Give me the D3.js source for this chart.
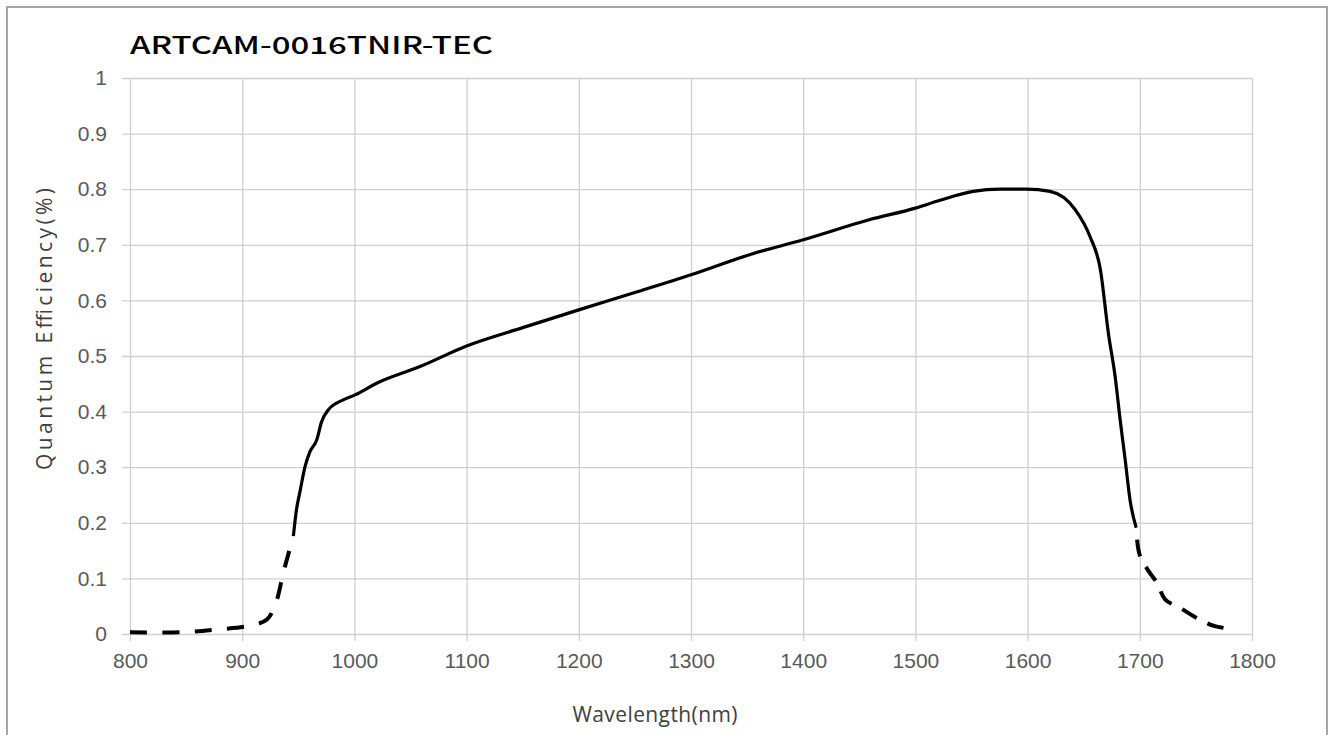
<!DOCTYPE html>
<html>
<head>
<meta charset="utf-8">
<script src="https://cdn.jsdelivr.net/npm/d3@7"></script>
<style>
  body { margin: 0; background: #fff; }
</style>
</head>
<body>
<div id="chart"></div>
<script>
// wavelength (nm) / quantum efficiency
var dashLeftWl  = [800, 845, 877, 907, 922, 930, 937, 945.6];
var dashLeftQe  = [0.003, 0.003, 0.008, 0.015, 0.026, 0.056, 0.113, 0.176];

var solidWl = [945.6, 948.4, 951.3, 956, 960.4, 966.4, 970.8, 976.7, 990, 1000.5, 1019.8, 1058.5, 1100,
               1150, 1200, 1251.4, 1300, 1355, 1400, 1458.8, 1500, 1521.9, 1551.6, 1575.4, 1599,
               1620, 1642.5, 1655.6, 1664.9, 1672, 1678, 1682.5, 1687, 1691.3, 1696.8];
var solidQe = [0.176, 0.224, 0.254, 0.301, 0.328, 0.349, 0.382, 0.403, 0.421, 0.430, 0.451, 0.481, 0.518,
               0.551, 0.583, 0.615, 0.646, 0.684, 0.709, 0.745, 0.766, 0.780, 0.796, 0.800, 0.800,
               0.796, 0.763, 0.715, 0.655, 0.541, 0.463, 0.385, 0.313, 0.241, 0.191];

var dashRightWl = [1696.8, 1699.8, 1707.9, 1715.3, 1722.7, 1736, 1748, 1762.7, 1774.6];
var dashRightQe = [0.191, 0.143, 0.113, 0.092, 0.062, 0.047, 0.032, 0.017, 0.011];

var xTicks = [800, 900, 1000, 1100, 1200, 1300, 1400, 1500, 1600, 1700, 1800];
var yTicks = [0, 0.1, 0.2, 0.3, 0.4, 0.5, 0.6, 0.7, 0.8, 0.9, 1];

var chartTitle = "ARTCAM-0016TNIR-TEC";
var xTitle = "Wavelength(nm)";
var yTitle = "Quantum  Efficiency(%)";

var width = 1332, height = 735;
var plotLeft = 130, plotRight = 1252, plotTop = 78, plotBottom = 634;

var svg = d3.select("#chart").append("svg")
  .attr("width", width)
  .attr("height", height);

// outer frame
svg.append("rect")
  .attr("x", 7).attr("y", 7)
  .attr("width", 1320).attr("height", 740)
  .attr("fill", "none")
  .attr("stroke", "#a6a6a6")
  .attr("stroke-width", 2);

var x = d3.scaleLinear().domain([800, 1800]).range([plotLeft, plotRight]);
var y = d3.scaleLinear().domain([0, 1]).range([plotBottom, plotTop]);

// vertical gridlines
svg.append("g")
  .attr("transform", "translate(0," + plotBottom + ")")
  .call(d3.axisBottom(x).tickValues(xTicks).tickSize(-(plotBottom - plotTop)).tickFormat(""))
  .call(function(g) {
    g.select(".domain").remove();
    g.selectAll("line").attr("stroke", "#cfcfcf").attr("stroke-width", 1.3);
  });

// x ticks + labels
svg.append("g")
  .attr("transform", "translate(0," + plotBottom + ")")
  .call(d3.axisBottom(x).tickValues(xTicks).tickSize(7).tickPadding(12).tickFormat(d3.format("d")))
  .call(function(g) {
    g.select(".domain").remove();
    g.selectAll("line").attr("stroke", "#cfcfcf").attr("stroke-width", 1.3);
    g.selectAll("text")
      .attr("fill", "#595959")
      .style("font-family", "'Liberation Sans', Arial, sans-serif")
      .style("font-size", "21px");
  });

// horizontal gridlines, sticking out 8px to the left
svg.append("g")
  .attr("transform", "translate(" + plotLeft + ",0)")
  .call(d3.axisLeft(y).tickValues(yTicks).tickSize(8).tickPadding(14).tickFormat(d3.format("")))
  .call(function(g) {
    g.select(".domain").remove();
    g.selectAll("line").attr("x2", plotRight - plotLeft).attr("x1", -8)
      .attr("stroke", "#cfcfcf").attr("stroke-width", 1.3);
    g.selectAll("text")
      .attr("fill", "#595959")
      .attr("x", -23)
      .style("font-family", "'Liberation Sans', Arial, sans-serif")
      .style("font-size", "21px");
  });

// curve
var line = d3.line()
  .x(function(d) { return x(d[0]); })
  .y(function(d) { return y(d[1]); })
  .curve(d3.curveCatmullRom);

var smoothLine = d3.line()
  .x(function(d) { return x(d[0]); })
  .y(function(d) { return y(d[1]); })
  .curve(d3.curveMonotoneX);

function pairs(a, b) { return a.map(function(v, i) { return [v, b[i]]; }); }

var dash = 17;

var leftPath = svg.append("path")
  .datum(pairs(dashLeftWl, dashLeftQe))
  .attr("d", line)
  .attr("fill", "none")
  .attr("stroke", "#000")
  .attr("stroke-width", 4);
// starts on a dash, ends on a gap
var lenL = leftPath.node().getTotalLength();
var nL = Math.round(lenL / 31);
leftPath.attr("stroke-dasharray", dash + "," + (lenL / nL - dash));

svg.append("path")
  .datum(pairs(solidWl, solidQe))
  .attr("d", smoothLine)
  .attr("fill", "none")
  .attr("stroke", "#000")
  .attr("stroke-width", 3.2)
  .attr("stroke-linejoin", "round");

var rightPath = svg.append("path")
  .datum(pairs(dashRightWl, dashRightQe))
  .attr("d", line)
  .attr("fill", "none")
  .attr("stroke", "#000")
  .attr("stroke-width", 4);
// starts on a gap, ends on a dash
var lenR = rightPath.node().getTotalLength();
var nR = Math.round(lenR / 31);
rightPath.attr("stroke-dasharray", dash + "," + (lenR / nR - dash))
  .attr("stroke-dashoffset", dash);

// titles
svg.append("text")
  .attr("x", 130).attr("y", 54)
  .attr("textLength", 363)
  .attr("lengthAdjust", "spacingAndGlyphs")
  .style("font-family", "'Noto Sans CJK JP', sans-serif")
  .style("font-size", "24px")
  .style("font-weight", "500")
  .attr("fill", "#000")
  .text(chartTitle);

svg.append("text")
  .attr("x", 655).attr("y", 722)
  .attr("text-anchor", "middle")
  .attr("textLength", 165)
  .style("font-family", "'Open Sans', sans-serif")
  .style("font-size", "21px")
  .attr("fill", "#404040")
  .text(xTitle);

svg.append("text")
  .attr("transform", "translate(52,329) rotate(-90)")
  .attr("text-anchor", "middle")
  .attr("textLength", 282)
  .style("font-family", "'Open Sans', sans-serif")
  .style("font-size", "21px")
  .attr("fill", "#404040")
  .text(yTitle);
</script>
</body>
</html>
